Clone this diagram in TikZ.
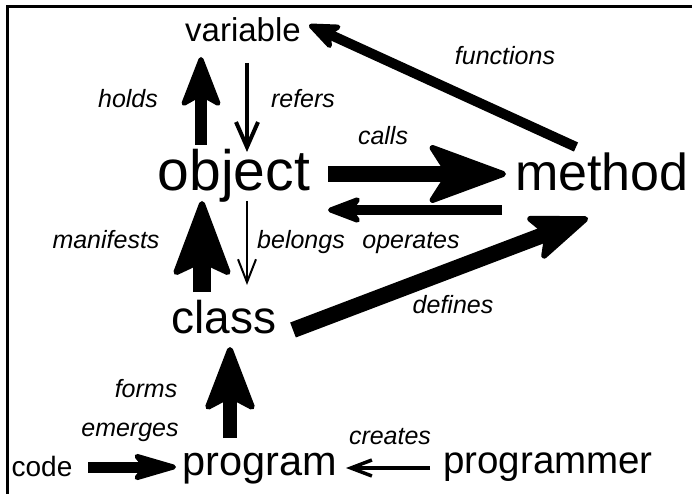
\documentclass[tikz,border=0pt]{standalone}
\usepackage{fontspec}
\setmainfont{Liberation Sans}
\usetikzlibrary{arrows.meta}
\begin{document}
\begin{tikzpicture}[x=1pt,y=-1pt,
  term/.style={font=\fontsize{#1}{#1}\selectfont, inner sep=0pt, anchor=base},
  lbl/.style={font=\fontsize{25}{25}\selectfont\itshape, inner sep=0pt, anchor=base},
  fat/.style n args={5}{line width=#1,
    -{Stealth[length=#2, width=#3, inset=#4, round, line width=#5]}},
  slim/.style n args={3}{line width=#1,
    -{Straight Barb[length=#2, width=#3]}},
]
\useasboundingbox (0,0) rectangle (692,494);
\clip (0,0) rectangle (692,494);
% frame
\draw[line width=3pt] (7,520) |- (720,7);

% terms
\node[term=33] (variable)   at (243,42)  {variable};
\node[term=57] (object)     at (234,190) {object};
\node[term=52] (method)     at (602,190) {method};
\node[term=46] (class)      at (224,333) {class};
\node[term=41.5] (program)  at (260,475) {program};
\node[term=38.5] (programmer) at (548,473) {programmer};
\node[term=28] (code)       at (42,476)  {code};

% labels
\node[lbl] (l-holds)     at (128,108) {holds};
\node[lbl] (l-refers)    at (303,108) {refers};
\node[lbl] (l-calls)     at (383,145) {calls};
\node[lbl] (l-functions) at (505,65)  {functions};
\node[lbl] (l-manifests) at (106,248) {manifests};
\node[lbl] (l-belongs)   at (301,248) {belongs};
\node[lbl] (l-operates)  at (411,248) {operates};
\node[lbl] (l-defines)   at (453,313) {defines};
\node[lbl] (l-forms)     at (146,397) {forms};
\node[lbl] (l-emerges)   at (130,436) {emerges};
\node[lbl] (l-creates)   at (390,444) {creates};

% connector ends
\coordinate (holds-s)     at (201,145); \coordinate (holds-t)     at (201,57);
\coordinate (refers-s)    at (247,63);  \coordinate (refers-t)    at (247,152);
\coordinate (calls-s)     at (328,174); \coordinate (calls-t)     at (506,174);
\coordinate (operates-s)  at (502,210); \coordinate (operates-t)  at (328,210);
\coordinate (functions-s) at (576,147); \coordinate (functions-t) at (309,25);
\coordinate (manifests-s) at (202,292); \coordinate (manifests-t) at (202,201);
\coordinate (belongs-s)   at (247,201); \coordinate (belongs-t)   at (247,285);
\coordinate (defines-s)   at (293,330); \coordinate (defines-t)   at (588,218);
\coordinate (forms-s)     at (230,438); \coordinate (forms-t)     at (230,347);
\coordinate (code-s)      at (88,467);  \coordinate (code-t)      at (176,467);
\coordinate (creates-s)   at (430,468); \coordinate (creates-t)   at (346,468);

% connectors
\draw[fat={12pt}{56pt}{43pt}{12pt}{5pt}] (holds-s) -- (holds-t);
\draw[slim={4pt}{25pt}{22pt}] (refers-s) -- (refers-t);
\draw[fat={16pt}{86pt}{63pt}{20pt}{6pt}] (calls-s) -- (calls-t);
\draw[fat={10pt}{40pt}{30pt}{10pt}{5pt}] (operates-s) -- (operates-t);
\draw[fat={10pt}{37pt}{30pt}{9pt}{5pt}] (functions-s) -- (functions-t);
\draw[fat={18pt}{82pt}{61pt}{14pt}{6pt}] (manifests-s) -- (manifests-t);
\draw[slim={2pt}{23pt}{18pt}] (belongs-s) -- (belongs-t);
\draw[fat={16pt}{66pt}{50pt}{14pt}{6pt}] (defines-s) -- (defines-t);
\draw[fat={14pt}{71pt}{54pt}{14pt}{6pt}] (forms-s) -- (forms-t);
\draw[fat={11pt}{52pt}{30pt}{12pt}{5pt}] (code-s) -- (code-t);
\draw[slim={3.5pt}{21pt}{16pt}] (creates-s) -- (creates-t);
\end{tikzpicture}
\end{document}
